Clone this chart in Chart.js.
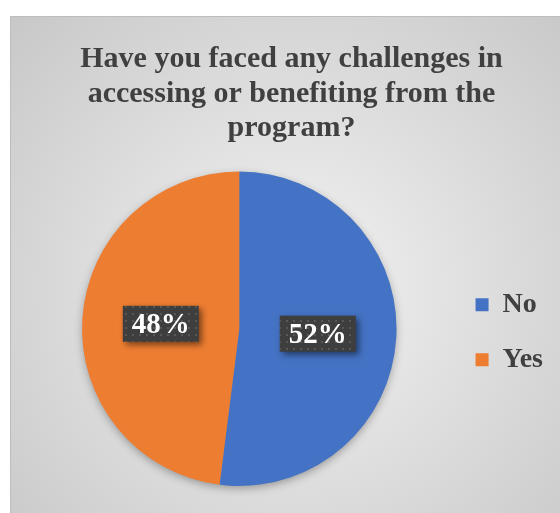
<!DOCTYPE html>
<html>
<head>
<meta charset="utf-8">
<script src="https://cdn.jsdelivr.net/npm/chart.js"></script>
<style>
  html, body { margin: 0; padding: 0; background: #fff; overflow: hidden; width: 560px; height: 513px; }
  #challengesPie { position: absolute; left: 10px; top: 16px; }
</style>
</head>
<body>
<canvas id="challengesPie" width="569" height="497"></canvas>
<script>
// Survey answers
const answerLabels = ["No", "Yes"];
const answerPercents = [52, 48];
const answerColors = ["#4472C4", "#ED7D31"];
const titleLines = ["Have you faced any challenges in", "accessing or benefiting from the", "program?"];

const serif = "'Liberation Serif', 'Times New Roman', serif";

// light radial fill behind everything, with a thin frame
const backgroundPlugin = {
    id: "radialBackground",
    beforeDraw(chart) {
        const ctx = chart.ctx;
        const w = chart.width, h = chart.height;
        const grad = ctx.createRadialGradient(w * 0.5, h * 0.55, 0, w * 0.5, h * 0.55, 400);
        grad.addColorStop(0, "#f3f3f3");
        grad.addColorStop(1, "#c7c7c7");
        ctx.save();
        ctx.fillStyle = grad;
        ctx.fillRect(0, 0, w, h);
        ctx.strokeStyle = "#bdbdbd";
        ctx.lineWidth = 1;
        ctx.strokeRect(0.5, 0.5, w, h);
        ctx.restore();
    }
};

// soft shadow under the whole pie
const pieShadowPlugin = {
    id: "pieShadow",
    beforeDatasetsDraw(chart) {
        const arc = chart.getDatasetMeta(0).data[0];
        if (!arc) return;
        const ctx = chart.ctx;
        ctx.save();
        ctx.shadowColor = "rgba(0,0,0,0.35)";
        ctx.shadowBlur = 10;
        ctx.shadowOffsetY = 3;
        ctx.fillStyle = "#888";
        ctx.beginPath();
        ctx.arc(arc.x, arc.y, arc.outerRadius - 1, 0, Math.PI * 2);
        ctx.fill();
        ctx.restore();
    }
};

// dotted dark tile used behind the percentage labels
function makeDotPattern(ctx) {
    const tile = document.createElement("canvas");
    tile.width = 7;
    tile.height = 7;
    const t = tile.getContext("2d");
    t.fillStyle = "#3e3e3e";
    t.fillRect(0, 0, 7, 7);
    t.fillStyle = "#575757";
    t.fillRect(3, 3, 2, 2);
    return ctx.createPattern(tile, "repeat");
}

const percentLabelPlugin = {
    id: "percentLabels",
    afterDatasetsDraw(chart) {
        const ctx = chart.ctx;
        const meta = chart.getDatasetMeta(0);
        const values = chart.data.datasets[0].data;
        const pattern = makeDotPattern(ctx);
        ctx.save();
        ctx.font = "bold 29px " + serif;
        ctx.textAlign = "center";
        ctx.textBaseline = "middle";
        meta.data.forEach((arc, i) => {
            const mid = (arc.startAngle + arc.endAngle) / 2;
            const r = arc.outerRadius * 0.5;
            const x = arc.x + Math.cos(mid) * r;
            const y = arc.y + Math.sin(mid) * r;
            const text = values[i] + "%";
            const bw = ctx.measureText(text).width + 18;
            const bh = 36;
            ctx.save();
            ctx.shadowColor = "rgba(0,0,0,0.5)";
            ctx.shadowBlur = 6;
            ctx.shadowOffsetX = 3;
            ctx.shadowOffsetY = 3;
            ctx.fillStyle = pattern;
            ctx.fillRect(x - bw / 2, y - bh / 2, bw, bh);
            ctx.restore();
            ctx.fillStyle = "#ffffff";
            ctx.fillText(text, x, y + 2);
        });
        ctx.restore();
    }
};

new Chart(document.getElementById("challengesPie").getContext("2d"), {
    type: "pie",
    data: {
        labels: answerLabels,
        datasets: [{
            data: answerPercents,
            backgroundColor: answerColors,
            borderWidth: 0
        }]
    },
    options: {
        responsive: false,
        animation: false,
        layout: {
            padding: { left: 20, right: 26, bottom: 27 }
        },
        plugins: {
            title: {
                display: true,
                text: titleLines,
                color: "#404040",
                font: { family: serif, size: 30, weight: "bold", lineHeight: 1.15 },
                padding: { top: 26, bottom: 26 }
            },
            legend: {
                position: "right",
                // empty legend title only pushes the entries down to the pie's middle
                title: { display: true, text: "", padding: { top: 148, bottom: 0 } },
                labels: {
                    boxWidth: 13,
                    boxHeight: 13,
                    padding: 27,
                    color: "#404040",
                    font: { family: serif, size: 28, weight: "bold" }
                }
            },
            tooltip: { enabled: false }
        }
    },
    plugins: [backgroundPlugin, pieShadowPlugin, percentLabelPlugin]
});
</script>
</body>
</html>
